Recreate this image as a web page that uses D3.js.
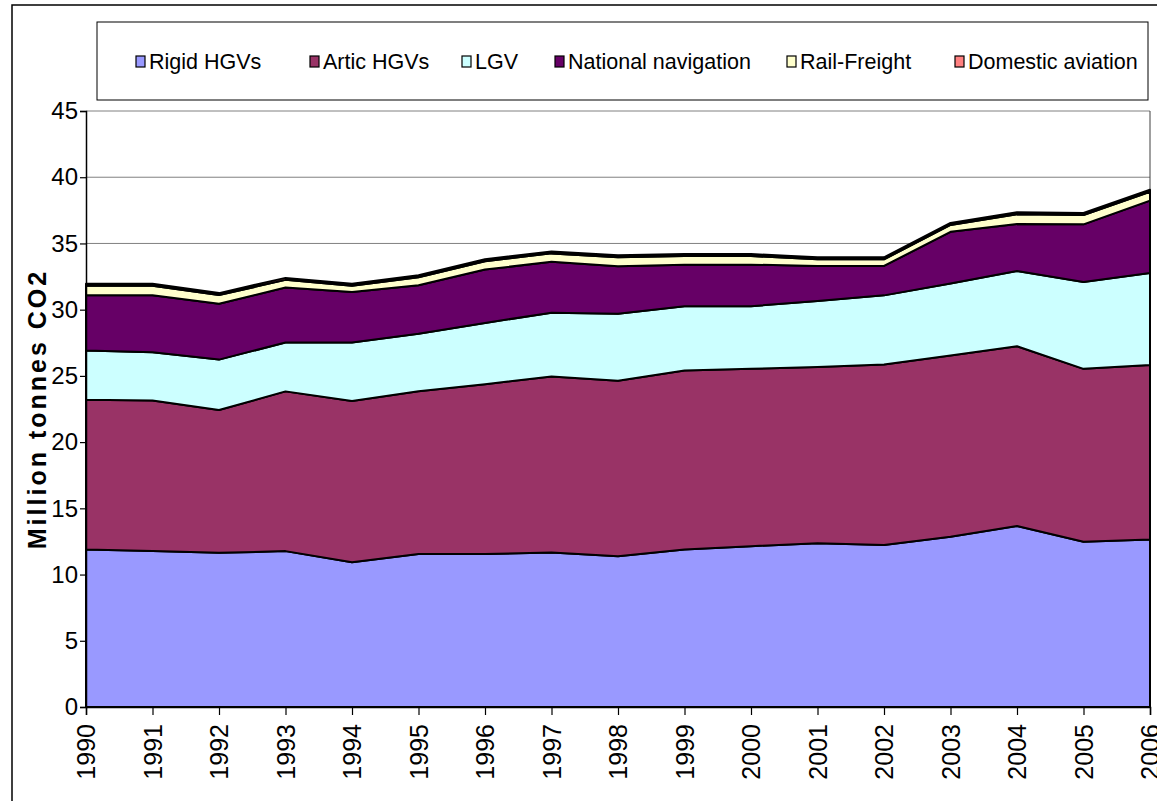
<!DOCTYPE html>
<html>
<head>
<meta charset="utf-8">
<script src="https://cdn.jsdelivr.net/npm/d3@7"></script>
<style>
  html, body { margin: 0; padding: 0; background: #fff; }
  svg { display: block; font-family: "Liberation Sans", Arial, sans-serif; }
</style>
</head>
<body>
<svg id="chart" width="1157" height="801"></svg>
<script>
// Freight transport CO2 emissions by mode, million tonnes
const years = ["1990","1991","1992","1993","1994","1995","1996","1997","1998",
               "1999","2000","2001","2002","2003","2004","2005","2006"];
const rigidHGVs        = [11.89, 11.77, 11.64, 11.77, 10.93, 11.56, 11.56, 11.66, 11.39, 11.89, 12.14, 12.37, 12.24, 12.85, 13.66, 12.47, 12.65];
const articHGVs        = [11.31, 11.37, 10.78, 12.06, 12.17, 12.28, 12.81, 13.29, 13.25, 13.51, 13.39, 13.31, 13.62, 13.69, 13.58, 13.06, 13.18];
const lgv              = [3.72, 3.65, 3.81, 3.69, 4.42, 4.34, 4.63, 4.82, 5.05, 4.85, 4.73, 4.97, 5.22, 5.43, 5.68, 6.56, 6.94];
const nationalNav      = [4.16, 4.29, 4.22, 4.15, 3.81, 3.66, 4.03, 3.84, 3.59, 3.15, 3.14, 2.65, 2.22, 3.91, 3.54, 4.35, 5.46];
const railFreight      = [0.72, 0.72, 0.65, 0.58, 0.47, 0.61, 0.62, 0.64, 0.67, 0.65, 0.65, 0.50, 0.50, 0.52, 0.74, 0.71, 0.67];
const domesticAviation = [0.15, 0.15, 0.15, 0.15, 0.15, 0.15, 0.15, 0.15, 0.15, 0.15, 0.15, 0.15, 0.15, 0.15, 0.15, 0.15, 0.15];

const seriesNames  = ["Rigid HGVs", "Artic HGVs", "LGV", "National navigation", "Rail-Freight", "Domestic aviation"];
const seriesValues = [rigidHGVs, articHGVs, lgv, nationalNav, railFreight, domesticAviation];
const seriesColors = ["#9999FF", "#993366", "#CCFFFF", "#660066", "#FFFFCC", "#FF8080"];
const yTicks = [0, 5, 10, 15, 20, 25, 30, 35, 40, 45];
const yTitle = "Million tonnes CO2";

// Rows for d3.stack
const rows = years.map((yr, i) => {
  const r = { year: yr };
  seriesNames.forEach((n, k) => { r[n] = seriesValues[k][i]; });
  return r;
});

const svg = d3.select("#chart");
const plot = { left: 86, right: 1150, top: 111, bottom: 707 };

const x = d3.scalePoint().domain(years).range([plot.left, plot.right]);
const y = d3.scaleLinear().domain([0, 45]).range([plot.bottom, plot.top]);

// Outer chart frame
svg.append("rect")
  .attr("x", 12).attr("y", 5).attr("width", 1180).attr("height", 830)
  .attr("fill", "#fff").attr("stroke", "#000").attr("stroke-width", 1.5);

// Horizontal gridlines
svg.append("g").selectAll("line").data(yTicks.filter(t => t > 0)).join("line")
  .attr("x1", plot.left).attr("x2", plot.right)
  .attr("y1", d => y(d)).attr("y2", d => y(d))
  .attr("stroke", "#808080").attr("stroke-width", 1);

// Plot area right border
svg.append("line")
  .attr("x1", plot.right).attr("x2", plot.right)
  .attr("y1", plot.top).attr("y2", plot.bottom)
  .attr("stroke", "#404040").attr("stroke-width", 1);

// Stacked areas
const stack = d3.stack().keys(seriesNames);
const layers = stack(rows);
const area = d3.area()
  .x(d => x(d.data.year))
  .y0(d => y(d[0]))
  .y1(d => y(d[1]));

svg.append("g").selectAll("path").data(layers).join("path")
  .attr("d", area)
  .attr("fill", (d, i) => seriesColors[i])
  .attr("stroke", "#000")
  .attr("stroke-width", 2)
  .attr("stroke-linejoin", "round");

// Y axis
const yAxis = d3.axisLeft(y).tickValues(yTicks).tickSize(6).tickPadding(2).tickFormat(d3.format("d"));
const gy = svg.append("g").attr("transform", `translate(${plot.left},0)`).call(yAxis);
gy.select(".domain").attr("stroke", "#000").attr("stroke-width", 1.5);
gy.selectAll(".tick line").attr("stroke", "#000").attr("stroke-width", 1.2);
gy.selectAll(".tick text").attr("font-size", 24).attr("fill", "#000")
  .attr("font-family", "Liberation Sans, Arial, sans-serif");

// X axis
const xAxis = d3.axisBottom(x).tickSize(8).tickPadding(0);
const gx = svg.append("g").attr("transform", `translate(0,${plot.bottom})`).call(xAxis);
gx.select(".domain").attr("stroke", "#000").attr("stroke-width", 1.5);
gx.selectAll(".tick line").attr("stroke", "#000").attr("stroke-width", 1.2);
gx.selectAll(".tick text")
  .attr("font-size", 25).attr("fill", "#000")
  .attr("font-family", "Liberation Sans, Arial, sans-serif")
  .attr("text-anchor", "end")
  .attr("dy", "0.35em")
  .attr("transform", "translate(0,17) rotate(-90)")
  .attr("x", 0).attr("y", 0);

// Y axis title
svg.append("text")
  .attr("transform", `translate(46,${(plot.top + plot.bottom) / 2}) rotate(-90)`)
  .attr("text-anchor", "middle")
  .attr("font-size", 25).attr("font-weight", "bold")
  .attr("letter-spacing", 3)
  .text(yTitle);

// Legend
const legend = svg.append("g");
legend.append("rect")
  .attr("x", 97).attr("y", 22).attr("width", 1051).attr("height", 78)
  .attr("fill", "#fff").attr("stroke", "#000").attr("stroke-width", 1);
const legendX = [136, 310, 462, 555, 787, 955];
const item = legend.selectAll("g.item").data(seriesNames).join("g")
  .attr("class", "item")
  .attr("transform", (d, i) => `translate(${legendX[i]},61)`);
item.append("rect")
  .attr("x", 0).attr("y", -5).attr("width", 9).attr("height", 11)
  .attr("fill", (d, i) => seriesColors[i]).attr("stroke", "#000").attr("stroke-width", 1.2);
item.append("text")
  .attr("x", 13).attr("y", 0).attr("dy", "0.35em")
  .attr("font-size", 21.5)
  .text(d => d);
</script>
</body>
</html>
